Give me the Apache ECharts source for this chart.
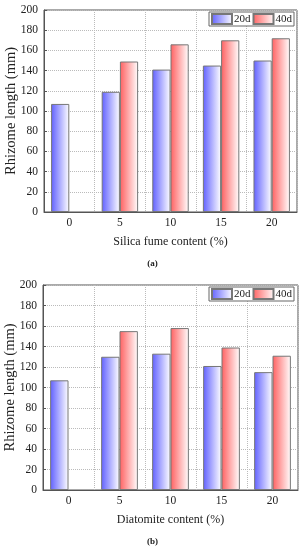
<!DOCTYPE html>
<html><head><meta charset="utf-8">
<script src="https://cdn.jsdelivr.net/npm/echarts@6/dist/echarts.min.js"></script>
<style>html,body{margin:0;padding:0;background:#fff}#c{width:305px;height:550px}</style>
</head><body><div id="c"></div>
<script>
var categories = ['0', '5', '10', '15', '20'];
var silica20d = [107, 119, 141, 145, 150];
var silica40d = [null, 149, 166, 170, 172];
var diatom20d = [107, 130, 133, 121, 115];
var diatom40d = [null, 155, 158, 139, 131];
var yTicks = [0, 20, 40, 60, 80, 100, 120, 140, 160, 180, 200];
var xNames = ['Silica fume content (%)', 'Diatomite content (%)'];
var panelLabels = ['(a)', '(b)'];
var seriesNames = ['20d', '40d'];

var chart = echarts.init(document.getElementById('c'));
var font = 'Liberation Serif';
function grad(c) {
  return new echarts.graphic.LinearGradient(0, 0, 1, 0, [{offset: 0, color: c}, {offset: 1, color: '#ffffff'}]);
}
var blue = grad('#6060ff'), red = grad('#ff6060');
var grids = [
  {left: 44, right: 8, top: 10, height: 202, show: true, borderColor: '#555', borderWidth: 1, outerBoundsMode: 'none', containLabel: false},
  {left: 43, right: 7, top: 285, height: 205, show: true, borderColor: '#555', borderWidth: 1, outerBoundsMode: 'none', containLabel: false}
];
function xAxis(i) {
  return {type: 'category', gridIndex: i, data: categories, name: xNames[i], nameLocation: 'middle', nameGap: 24, nameMoveOverlap: false,
    nameTextStyle: {fontFamily: font, fontSize: 12, color: '#222'},
    axisLine: {lineStyle: {color: '#555'}}, axisTick: {show: false},
    axisLabel: {fontFamily: font, fontSize: 11.5, color: '#222', margin: 5},
    splitLine: {show: true, lineStyle: {type: 'dotted', color: '#bbb'}}};
}
function yAxis(i) {
  return {type: 'value', gridIndex: i, min: 0, max: 200, interval: 20, name: 'Rhizome length (mm)', nameLocation: 'middle', nameGap: 25, nameMoveOverlap: false,
    nameTextStyle: {fontFamily: font, fontSize: 14.5, color: '#222'},
    axisLine: {show: true, lineStyle: {color: '#555'}}, axisTick: {show: true, inside: true, length: 3},
    axisLabel: {fontFamily: font, fontSize: 11.5, color: '#222', margin: 6,
      formatter: function (v) { return yTicks.indexOf(v) >= 0 ? String(v) : ''; }},
    splitLine: {show: true, lineStyle: {type: 'dotted', color: '#bbb'}}};
}
function bar(name, data, color, i) {
  return {type: 'bar', name: name, xAxisIndex: i, yAxisIndex: i, data: data, barWidth: '36%', barGap: '0%',
    itemStyle: {color: color, borderColor: '#777', borderWidth: 1}};
}
chart.setOption({
  animation: false,
  grid: grids,
  xAxis: [xAxis(0), xAxis(1)],
  yAxis: [yAxis(0), yAxis(1)],
  legend: [0, 1].map(function (i) {
    return {data: seriesNames, right: 11, top: i === 0 ? 12 : 287, orient: 'horizontal', icon: 'rect',
      itemWidth: 20, itemHeight: 10, itemGap: 2, padding: [1, 2], borderColor: '#666', borderWidth: 1,
      backgroundColor: '#fff', textStyle: {fontFamily: font, fontSize: 11, color: '#222', padding: [0, 0, 0, -3]},
      selectedMode: false};
  }),
  series: [bar('20d', silica20d, blue, 0), bar('40d', silica40d, red, 0),
           bar('20d', diatom20d, blue, 1), bar('40d', diatom40d, red, 1)],
  graphic: [
    {type: 'text', left: 'center', top: 259, style: {text: panelLabels[0], font: 'bold 9px "Liberation Serif"', fill: '#222'}},
    {type: 'text', left: 'center', top: 537, style: {text: panelLabels[1], font: 'bold 9px "Liberation Serif"', fill: '#222'}}
  ]
});
</script></body></html>
